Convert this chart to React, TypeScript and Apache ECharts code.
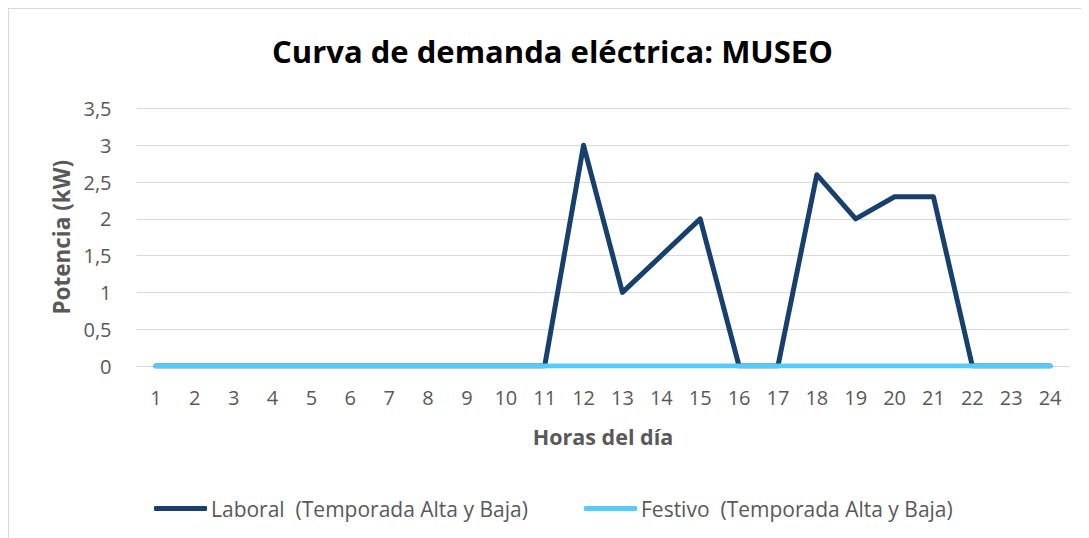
import React, { useEffect, useRef } from "react";
import * as echarts from "echarts";

const hours = ["1","2","3","4","5","6","7","8","9","10","11","12","13","14","15","16","17","18","19","20","21","22","23","24"];
const laboral = [0,0,0,0,0,0,0,0,0,0,0,3,1,1.5,2,0,0,2.6,2,2.3,2.3,0,0,0];
const festivo = [0,0,0,0,0,0,0,0,0,0,0,0,0,0,0,0,0,0,0,0,0,0,0,0];
const laboralName = "Laboral  (Temporada Alta y Baja)";
const festivoName = "Festivo  (Temporada Alta y Baja)";
const titleText = "Curva de demanda eléctrica: MUSEO";

const FONT = "Open Sans";
const GRAY = "#595959";

export default function App() {
  const ref = useRef<HTMLDivElement>(null);
  useEffect(() => {
    const chart = echarts.init(ref.current!, null, { renderer: "svg" });
    chart.setOption({
      animation: false,
      textStyle: { fontFamily: FONT },
      title: {
        text: titleText,
        left: 538.5,
        top: 21,
        textAlign: "center",
        textStyle: { fontFamily: FONT, fontWeight: "bold", fontSize: 31, color: "#000" },
      },
      grid: { left: 127.5, right: 19.5, top: 99.5, bottom: 172, containLabel: false },
      legend: [
        {
          data: [laboralName],
          left: 140,
          top: 484,
          icon: "roundRect",
          itemWidth: 53,
          itemHeight: 5,
          itemGap: 4,
          textStyle: { fontFamily: FONT, fontSize: 21, color: GRAY, padding: [0, 0, 0, -1] },
        },
        {
          data: [festivoName],
          left: 570,
          top: 484,
          icon: "roundRect",
          itemWidth: 53,
          itemHeight: 5,
          itemGap: 4,
          textStyle: { fontFamily: FONT, fontSize: 21, color: GRAY, padding: [0, 0, 0, -1] },
        },
      ],
      xAxis: {
        type: "category",
        data: hours,
        boundaryGap: true,
        name: "Horas del día",
        nameLocation: "middle",
        nameGap: 59,
        nameTextStyle: { fontFamily: FONT, fontWeight: "bold", fontSize: 21.5, color: GRAY },
        axisLine: { lineStyle: { color: "#d9d9d9", width: 1 } },
        axisTick: { show: false },
        axisLabel: { fontFamily: FONT, fontSize: 20, color: GRAY, margin: 21 },
      },
      yAxis: {
        type: "value",
        min: 0,
        max: 3.5,
        interval: 0.5,
        name: "Potencia (kW)",
        nameLocation: "middle",
        nameRotate: 90,
        nameGap: 64,
        nameTextStyle: { fontFamily: FONT, fontWeight: "bold", fontSize: 22.5, color: GRAY },
        axisLine: { show: false },
        axisTick: { show: false },
        splitLine: { lineStyle: { color: "#d9d9d9", width: 1 } },
        axisLabel: {
          fontFamily: FONT,
          fontSize: 20,
          color: GRAY,
          margin: 25,
          formatter: (v: number) => String(v).replace(".", ","),
        },
      },
      series: [
        {
          name: laboralName,
          type: "line",
          data: laboral,
          symbol: "none",
          lineStyle: { color: "#17406D", width: 5, cap: "round", join: "round" },
          itemStyle: { color: "#17406D" },
        },
        {
          name: festivoName,
          type: "line",
          data: festivo,
          symbol: "none",
          lineStyle: { color: "#56CBF9", width: 5, cap: "round", join: "round" },
          itemStyle: { color: "#56CBF9" },
        },
      ],
    });
    return () => chart.dispose();
  }, []);
  return (
    <div
      style={{
        width: 1081,
        height: 530,
        boxSizing: "border-box",
        borderTop: "1px solid #d9d9d9",
        borderLeft: "1px solid #d9d9d9",
        overflow: "hidden",
      }}
    >
      <div ref={ref} style={{ width: 1080, height: 529 }} />
    </div>
  );
}
